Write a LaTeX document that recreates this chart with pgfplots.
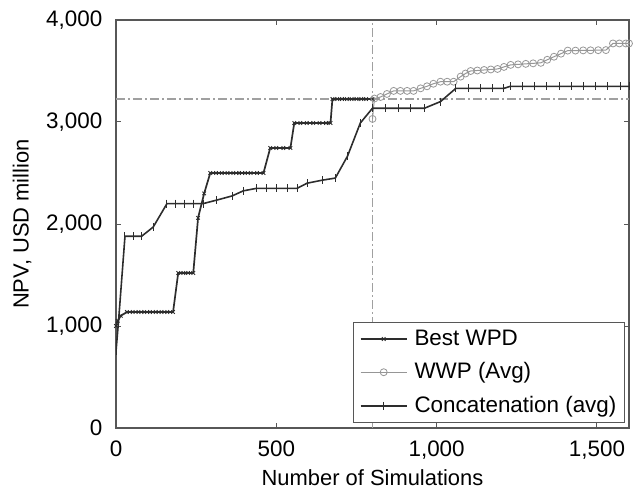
\documentclass[border=0pt]{standalone}
\usepackage{fontspec}
\setmainfont{Liberation Sans}
\usepackage{pgfplots}
\pgfplotsset{compat=1.18}
\definecolor{darkline}{RGB}{45,45,45}
\definecolor{lightline}{RGB}{150,150,150}
\definecolor{refline}{RGB}{160,160,160}

\begin{document}
\fontsize{22.5}{27}\selectfont
\begin{tikzpicture}
\begin{axis}[
    scale only axis,
    width=513bp,
    height=408bp,
    xmin=0, xmax=1600,
    ymin=0, ymax=4000,
    xtick={0,500,1000,1500},
    ytick={0,1000,2000,3000,4000},
    tick align=inside,
    major tick length=5bp,
    axis line style={line width=1.2pt, darkline!80},
    tick style={line width=1pt, darkline!80},
    /pgf/number format/.cd, 1000 sep={,}, assume math mode=true,
    /pgfplots/.cd,
    ticklabel style={font=\fontsize{22.5}{27}\selectfont},
    yticklabel style={xshift=-6bp},
    xticklabel style={yshift=-5bp},
    xlabel={Number of Simulations},
    ylabel={NPV, USD million},
    label style={font=\fontsize{22}{26}\selectfont},
    xlabel style={at={(axis description cs:0.5,-0.142)}, anchor=base},
    ylabel style={at={(axis description cs:-0.183,0.5)}, anchor=center},
    legend style={at={(0.992,0.012)}, anchor=south east,
        font=\fontsize{22.5}{27}\selectfont, draw=darkline!80, line width=1pt,
        row sep=10bp, inner xsep=6bp, inner ysep=5bp, cells={anchor=west}},
    legend image code/.code={\draw[mark repeat=2,mark phase=2,#1] plot coordinates {(0bp,0bp)(23bp,0bp)(46bp,0bp)}; \path (51bp,0bp);},
]
% reference lines
\addplot[forget plot, refline, line width=1.2pt, dash pattern=on 9bp off 3bp on 2bp off 3bp] coordinates {(0,3225) (1600,3225)};
\addplot[forget plot, refline, line width=1.2pt, dash pattern=on 9bp off 3bp on 2bp off 3bp] coordinates {(800,0) (800,4000)};

\addplot[darkline, line width=1.7pt, mark=x, mark size=2.5bp, mark options={solid, line width=0.9pt}] coordinates {
(0,1000) (5,1050) (15,1100) (34,1137) (52,1137) (70,1137) (88,1137) (106,1137) (124,1137) (142,1137) (160,1137) (178,1137)
(194,1520) (210,1520) (225,1520) (241,1520)
(256,2060) (275,2300) (294,2500) (312,2500) (330,2500) (348,2500) (366,2500) (384,2500) (402,2500) (420,2500) (440,2500) (460,2500)
(481,2745) (500,2745) (522,2745) (544,2745)
(556,2990) (575,2990) (595,2990) (615,2990) (635,2990) (655,2990) (669,2990)
(675,3225) (690,3225) (705,3225) (720,3225) (735,3225) (750,3225) (765,3225) (780,3225) (800,3225)
};
\addlegendentry{Best WPD}

\addplot[lightline, line width=1pt, mark=o, mark size=3.5bp, mark options={solid, line width=0.8pt}] coordinates {
(800,3030) (806,3230) (825,3245) (845,3275) (866,3305) (887,3305) (908,3305) (928,3305) (950,3330) (970,3350) (990,3375)
(1012,3395) (1033,3395) (1053,3395) (1075,3445) (1090,3475) (1106,3500) (1127,3505) (1148,3510) (1169,3515) (1190,3520)
(1210,3540) (1231,3560) (1254,3565) (1278,3570) (1301,3575) (1325,3580) (1345,3610) (1366,3640) (1388,3670) (1409,3700)
(1433,3700) (1457,3702) (1480,3703) (1504,3704) (1528,3705) (1550,3770) (1570,3770) (1590,3770) (1600,3770)
};
\addlegendentry{WWP (Avg)}

\addplot[darkline, line width=1.6pt, mark=|, mark size=4bp, mark options={solid, line width=1pt}] coordinates {
(0,750) (8,1050) (28,1880) (54,1880) (80,1880) (116,1970) (159,2200) (187,2200) (215,2200) (243,2200) (272,2200)
(315,2235) (362,2275) (397,2325) (439,2350) (470,2350) (502,2350) (534,2350) (565,2350) (596,2400) (644,2430) (684,2450)
(722,2665) (762,2990) (800,3135) (840,3135) (880,3135) (920,3135) (962,3135) (1012,3200) (1060,3330) (1100,3330)
(1137,3330) (1174,3330) (1210,3330) (1230,3350) (1268,3350) (1306,3350) (1344,3350) (1382,3350) (1420,3350)
(1458,3350) (1496,3350) (1534,3350) (1572,3350) (1600,3350)
};
\addlegendentry{Concatenation (avg)}

\coordinate (sw) at (rel axis cs:0,0);
\coordinate (ne) at (rel axis cs:1,1);
\end{axis}
\pgfresetboundingbox
\path[use as bounding box] ([xshift=-116bp,yshift=-64bp]sw) rectangle ([xshift=7bp,yshift=20bp]ne);
\end{tikzpicture}
\end{document}
